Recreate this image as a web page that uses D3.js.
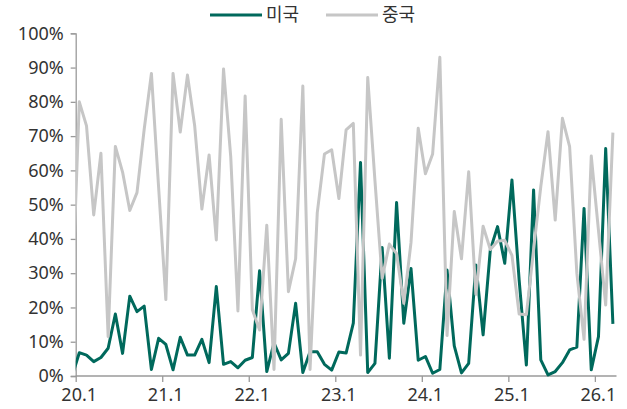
<html lang="ko">
<head>
<meta charset="utf-8">
<script src="https://cdn.jsdelivr.net/npm/d3@7"></script>
</head>
<style>
body{margin:0;background:#fff;}
svg text{font-family:"Noto Sans","Noto Sans CJK KR",sans-serif;fill:#333;}
</style>
<body>
<div id="drawarea"></div>
<script>
// 첫 값은 19.12 (축 밖, 잘림)
const startYear=2019, startMonth=12
const usVals=[0,
6.8,6.1,4.2,5.4,8.1,18.1,6.6,23.3,18.8,20.4,1.9,11,
9.2,1.8,11.3,6.1,6.1,10.7,3.9,26.1,3.4,4.2,2.4,4.6,
5.4,30.7,1.3,9.7,4.7,6.6,21.2,1,7.1,7.1,3.4,1.7,
7,6.7,15.4,62.3,1,3.7,37.5,5.2,50.6,15.4,31.4,4.6,
5.7,0.8,1.9,30.9,8.8,0.9,3.7,32.4,12,36.8,43.6,32.9,
57.2,28,3.2,54.3,4.7,0.3,1.3,3.9,7.6,8.4,48.9,1.8,
11.5,66.4,15.2]
const cnVals=[22,
80,73,47,65,11.5,67,59.5,48.3,53.5,72,88.3,55,
22.3,88.3,71.2,87.8,73,48.7,64.5,39.7,89.6,64,19,81.7,
19.3,13.4,44,1.9,74.9,24.6,34.2,84.6,1.9,47.6,64.8,66,
51.8,71.8,73.7,6.1,87.1,57,28.5,38.5,35.7,21.2,38.9,72.3,
59,64.8,93,11.8,48,34.2,59.6,23.8,43.7,36.9,39.3,39.6,
35.2,18.1,17.9,36.8,55.3,71.3,45.5,75.2,66.9,30,10.7,64.2,
42.5,20.7,71]
const seriesNames=["미국","중국"]
const seriesColors=["#00695C","#C6C6C6"]
const yTicks=[0,10,20,30,40,50,60,70,80,90,100]
const xTickLabels=["20.1","21.1","22.1","23.1","24.1","25.1","26.1"]

// 월 라벨 만들기
let months=[]
for(let i=0;i<usVals.length;i++){
  let m=(startMonth-1+i)%12+1, yy=startYear+Math.floor((startMonth-1+i)/12)
  months.push((yy%100)+"."+m)
}

const W=627,H=409
const pL=75.7,pR=616.5,pT=33.3,pB=376
// 인덱스 0 = 19.12, 1 = 20.1 ...
const x=d3.scaleLinear().domain([0.5,usVals.length-0.5]).range([pL,pR])
const y=d3.scaleLinear().domain([0,100]).range([pB,pT])

const svg=d3.select("#drawarea").append("svg").attr("width",W).attr("height",H)

svg.append("defs").append("clipPath").attr("id","plotclip")
  .append("rect").attr("x",pL).attr("y",0).attr("width",pR-pL).attr("height",H)

// y axis
const yAxis=svg.append("g").attr("transform","translate("+pL+",0)")
  .call(d3.axisLeft(y).tickValues(yTicks).tickSize(5).tickPadding(7).tickFormat(d=>d+"%"))
yAxis.select(".domain").attr("stroke","#9a9a9a").attr("stroke-width",1.3)
yAxis.selectAll(".tick line").attr("stroke","#9a9a9a").attr("stroke-width",1.3)
yAxis.selectAll("text").style("font-size","18px").attr("fill","#333")

// x axis: 12개월마다 눈금
const tickIdx=xTickLabels.map(l=>months.indexOf(l))
const xAxis=svg.append("g").attr("transform","translate(0,"+pB+")")
  .call(d3.axisBottom(x).tickValues(tickIdx.map(i=>i-0.5)).tickSize(6).tickPadding(6).tickSizeOuter(0)
    .tickFormat((d,i)=>xTickLabels[i]))
xAxis.select(".domain").attr("stroke","#9a9a9a").attr("stroke-width",1.3).attr("d","M"+pL+",0H"+pR)
xAxis.selectAll(".tick line").attr("stroke","#9a9a9a").attr("stroke-width",1.3)
xAxis.selectAll("text").style("font-size","18px").attr("fill","#333").attr("dx","3")

const line=d3.line().x((d,i)=>x(i)).y(d=>y(d))
const plot=svg.append("g").attr("clip-path","url(#plotclip)")
;[usVals,cnVals].forEach((vals,si)=>{
  plot.append("path").datum(vals).attr("d",line).attr("fill","none")
    .attr("stroke",seriesColors[si]).attr("stroke-width",3).attr("stroke-linejoin","round")
})

// legend
const legendX=[210,326]
const lg=svg.append("g")
seriesNames.forEach((n,i)=>{
  lg.append("line").attr("x1",legendX[i]).attr("x2",legendX[i]+52).attr("y1",15).attr("y2",15)
    .attr("stroke",seriesColors[i]).attr("stroke-width",3)
  lg.append("text").attr("x",legendX[i]+56).attr("y",15).attr("dy","0.35em")
    .style("font-size","18px").text(n)
})
</script>
</body>
</html>
